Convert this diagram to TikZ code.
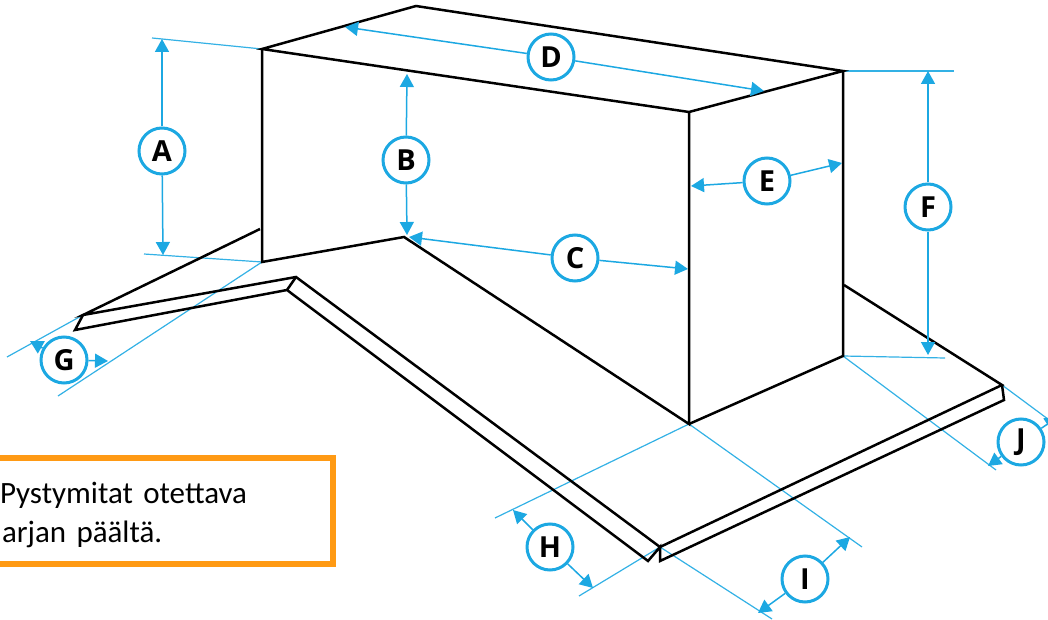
\documentclass[tikz,border=0pt]{standalone}
\usepackage{fontspec}
\setmainfont{Carlito}
\newfontfamily\labelfont{Open Sans}
\usetikzlibrary{arrows.meta}
\definecolor{mitta}{HTML}{1CA8E2}
\definecolor{oranssi}{HTML}{FF9A14}
\tikzset{
  edge/.style={line width=2.5pt, line join=miter, black},
  ext/.style={line width=1.2pt, mitta!90},
  dim/.style={line width=1.5pt, mitta, -{Triangle[length=13pt,width=14pt]}},
  tag/.style={circle, draw=mitta, fill=white, line width=3pt, minimum size=46pt, inner sep=0pt,
    font=\labelfont\bfseries\fontsize{29}{29}\selectfont}
}
\begin{document}
\begin{tikzpicture}[x=1pt,y=-1pt]
    \useasboundingbox (0,0) rectangle (1048,620);

    % Corners of the box
    \coordinate (topfl) at (262,49);
    \coordinate (topbk) at (416,6);
    \coordinate (topbr) at (843,71);
    \coordinate (topfr) at (689,112);
    \coordinate (botfl) at (262,262);
    \coordinate (botfr) at (689,424);
    \coordinate (botbr) at (843,356);
    \coordinate (valley) at (404,237);

    % Corners of the roof and the flashing
    \coordinate (roofl) at (260,229);
    \coordinate (roofr) at (844,285);
    \coordinate (leftup) at (83,315);
    \coordinate (leftlo) at (75,330);
    \coordinate (ridgeup) at (296,277);
    \coordinate (ridgelo) at (287,290);
    \coordinate (eaveup) at (660,547);
    \coordinate (eavelo) at (648,561);
    \coordinate (eavemid) at (660,561);
    \coordinate (rightup) at (1002,385);
    \coordinate (rightlo) at (1004,400);

    % Free ends of the extension lines
    \coordinate (extAa) at (152,38);
    \coordinate (extAb) at (144,254);
    \coordinate (extFa) at (954,71);
    \coordinate (extFb) at (945,358);
    \coordinate (extGa) at (7,357);
    \coordinate (extGb) at (58,396);
    \coordinate (extHa) at (495,518);
    \coordinate (extHb) at (579,596);
    \coordinate (extIa) at (862,547);
    \coordinate (extIb) at (772,619);
    \coordinate (extJa) at (996,470);
    \coordinate (extJb) at (1060,428);

    % Draw the extension lines
    \draw[ext] (extAa) -- (topfl);
    \draw[ext] (extAb) -- (botfl);
    \draw[ext] (topbr) -- (extFa);
    \draw[ext] (botbr) -- (extFb);
    \draw[ext] (extGa) -- (leftup);
    \draw[ext] (extGb) -- (botfl);
    \draw[ext] (extHa) -- (botfr);
    \draw[ext] (extHb) -- (eaveup);
    \draw[ext] (botfr) -- (extIa);
    \draw[ext] (eaveup) -- (extIb);
    \draw[ext] (botbr) -- (extJa);
    \draw[ext] (rightup) -- (extJb);

    % Draw the box
    \draw[edge] (topfl) -- (topbk) -- (topbr) -- (topfr) -- cycle;
    \draw[edge] (topfl) -- (botfl) -- (valley) -- (botfr) -- (topfr);
    \draw[edge] (botfr) -- (botbr) -- (topbr);

    % Draw the roof and the flashing
    \draw[edge] (roofl) -- (leftup) -- (ridgeup) -- (eaveup) -- (rightup) -- (roofr);
    \draw[edge] (leftup) -- (leftlo) -- (ridgelo) -- (eavelo) -- (eaveup) -- (eavemid) -- (rightlo) -- (rightup);
    \draw[edge] (ridgeup) -- (ridgelo);

    % Arrow ends
    \coordinate (tipAa) at (162,39);
    \coordinate (tipAb) at (163,255);
    \coordinate (tipBa) at (407,74);
    \coordinate (tipBb) at (407,235);
    \coordinate (tipCa) at (409,237);
    \coordinate (tipCb) at (688,269);
    \coordinate (tipDa) at (345,27);
    \coordinate (tipDb) at (764,91);
    \coordinate (tipEa) at (691,186);
    \coordinate (tipEb) at (842,163);
    \coordinate (tipFa) at (928,71);
    \coordinate (tipFb) at (928,355);
    \coordinate (tipGa) at (30,341);
    \coordinate (tipGb) at (108,361);
    \coordinate (tipHa) at (513,510);
    \coordinate (tipHb) at (593,588);
    \coordinate (tipIa) at (850,537);
    \coordinate (tipIb) at (758,613);
    \coordinate (tipJa) at (988,466);
    \coordinate (tipJb) at (1058,417);

    % Draw the labels
    \node[tag] (A) at (162,151) {A};
    \node[tag] (B) at (406,160) {B};
    \node[tag] (C) at (575,258) {C};
    \node[tag] (D) at (551,57) {D};
    \node[tag] (E) at (767,181) {E};
    \node[tag] (F) at (928,207) {F};
    \node[tag] (G) at (64,360) {G};
    \node[tag] (H) at (550,547) {H};
    \node[tag] (I) at (805,579) {I};
    \node[tag] (J) at (1021,442) {J};

    % Draw the dimension arrows
    \foreach \name in {A,B,C,D,E,F,G,H,I,J} {
        \draw[dim] (\name) -- (tip\name a);
        \draw[dim] (\name) -- (tip\name b);
    }

    % Note box
    \node[draw=oranssi, line width=6pt, fill=white, minimum width=344pt, minimum height=106pt,
      text width=340pt, inner sep=0pt, align=left, font=\fontsize{31}{39}\selectfont] (note) at (161,511)
      {\hspace*{9pt}\rule{0pt}{30pt}Pystymitat otettava\\\hspace*{11pt}arjan päältä.};

\end{tikzpicture}
\end{document}
